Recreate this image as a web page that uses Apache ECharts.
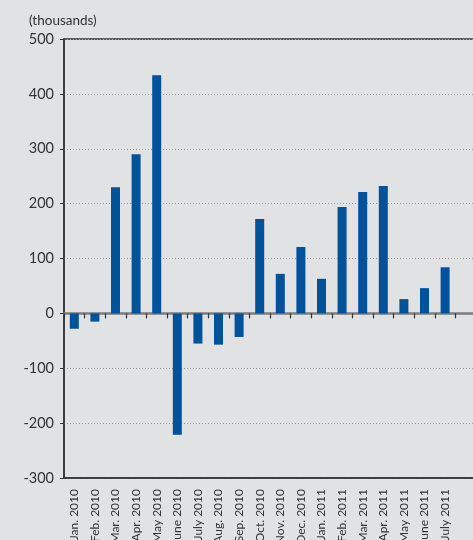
<!DOCTYPE html>
<html>
<head>
<meta charset="utf-8">
<script src="https://cdn.jsdelivr.net/npm/echarts@6/dist/echarts.min.js"></script>
<style>
  html, body { margin: 0; padding: 0; background: #e1e2e4; }
  #main { width: 473px; height: 540px; }
</style>
</head>
<body>
<div id="main"></div>
<script>
// monthly change, thousands
const months = [
  "Jan. 2010", "Feb. 2010", "Mar. 2010", "Apr. 2010", "May 2010", "June 2010",
  "July 2010", "Aug. 2010", "Sep. 2010", "Oct. 2010", "Nov. 2010", "Dec. 2010",
  "Jan. 2011", "Feb. 2011", "Mar. 2011", "Apr. 2011", "May 2011", "June 2011",
  "July 2011", ""
]
const values = [
  -28, -15, 230, 290, 434, -221,
  -55, -57, -43, 172, 72, 121,
  63, 194, 221, 232, 26, 46,
  84, null
]
const yTicks = [-300, -200, -100, 0, 100, 200, 300, 400, 500]

const font = "Lato, 'Open Sans', sans-serif"
const chart = echarts.init(document.getElementById("main"))

chart.setOption({
  backgroundColor: "#e1e2e4",
  animation: false,
  title: {
    text: "(thousands)",
    left: 24,
    top: 9,
    textStyle: { fontFamily: font, fontSize: 13.5, fontWeight: "normal", color: "#333" },
  },
  grid: {
    left: 64,
    top: 39,
    bottom: 62,
    right: -3,
    outerBoundsMode: "none",
    containLabel: false,
    show: true,
    borderColor: "#333",
    borderWidth: 1.5,
    backgroundColor: "transparent",
  },
  xAxis: [
    {
      type: "category",
      data: months,
      position: "bottom",
      axisLine: { onZero: false, lineStyle: { color: "#333", width: 1.5 } },
      axisTick: { show: false },
      axisLabel: {
        interval: 0,
        rotate: 90,
        margin: 11,
        fontFamily: font,
        fontSize: 12,
        color: "#333",
      },
    },
    {
      type: "category",
      data: months,
      position: "bottom",
      axisLine: { onZero: true, lineStyle: { color: "#7d7d7d", width: 2.5 } },
      axisTick: { show: true, interval: 0, length: 5, lineStyle: { color: "#333", width: 1.2 } },
      axisLabel: { show: false, interval: 0 },
    },
  ],
  yAxis: {
    type: "value",
    min: yTicks[0],
    max: yTicks[yTicks.length - 1],
    interval: 100,
    axisLine: { show: true, lineStyle: { color: "#333", width: 1.5 } },
    axisTick: { show: true, length: 4, lineStyle: { color: "#333" } },
    axisLabel: { margin: 10, fontFamily: font, fontSize: 14.5, color: "#333" },
    splitLine: { lineStyle: { type: [1, 2], color: "#999", width: 1 } },
  },
  series: [
    {
      type: "bar",
      data: values,
      barWidth: 9,
      itemStyle: { color: "#00529b" },
    },
  ],
})
</script>
</body>
</html>
